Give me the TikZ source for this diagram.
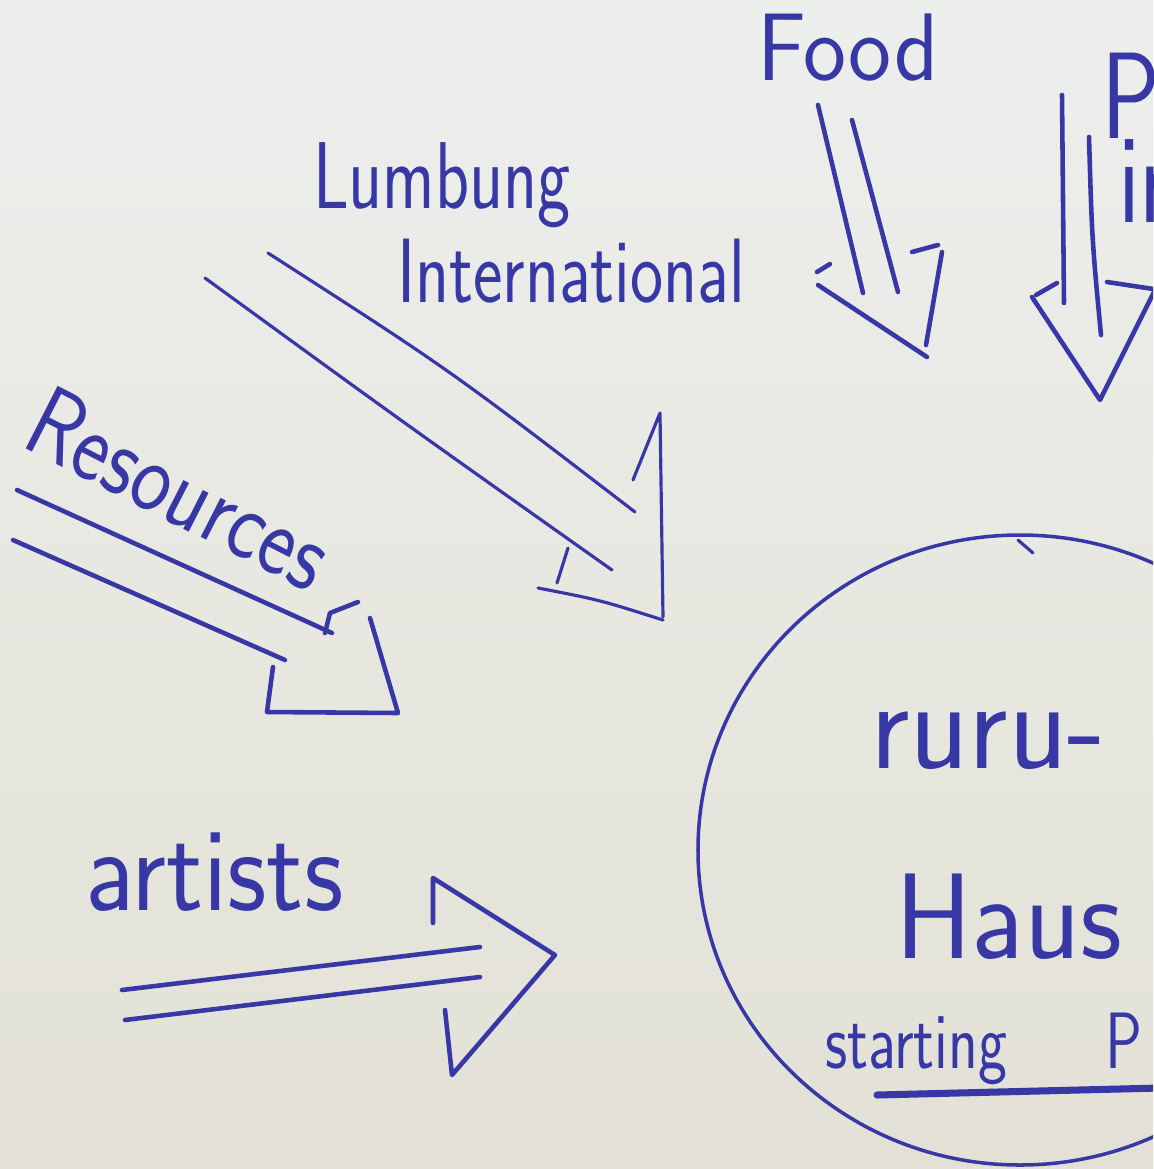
\documentclass[tikz,border=0pt]{standalone}
\usepackage{fontspec}
\usepackage{graphicx}
\definecolor{ink}{RGB}{55,55,165}
\definecolor{papertop}{RGB}{237,239,237}
\definecolor{paperbot}{RGB}{227,225,214}
\newcommand\hw[3]{{\fontsize{#1}{#1}\selectfont\scalebox{1}[#2]{#3}}}
\begin{document}
\begin{tikzpicture}[x=0.01cm,y=-0.01cm,
  pen/.style={draw=ink,line width=1.3pt,line cap=round,line join=round},
  thinpen/.style={pen,line width=0.9pt},
  hand/.style={text=ink,font=\sffamily,inner sep=0pt,outer sep=0pt}]
\useasboundingbox (0,0) rectangle (1153,1169);
\clip (0,0) rectangle (1153,1169);
\shade[top color=papertop,bottom color=paperbot] (0,0) rectangle (1153,1169);

% labels
\node[hand,anchor=base west] (food) at (757,80) {\hw{26}{1.05}{Food}};
\node[hand,anchor=base west] (pu) at (1101,138) {\hw{28}{1.25}{Pu}};
\node[hand,anchor=base west] (in) at (1118,222) {\hw{28}{1.3}{in}};
\node[hand,anchor=base west] (lumbung) at (313,208) {\hw{20}{1.35}{Lumbung}};
\node[hand,anchor=base west] (intl) at (397,302) {\hw{20}{1.3}{International}};
\node[hand,rotate=-27] (res) at (180,488) {\hw{24}{1.2}{Resources}};
\node[hand,anchor=base west] (artists) at (85,910) {\hw{31}{1.1}{artists}};
\node[hand,anchor=base west] (ruru) at (870,768) {\hw{35}{1.05}{ruru-}};
\node[hand,anchor=base west] (haus) at (895,958) {\hw{33}{1.05}{Haus}};
\node[hand,anchor=base west] (start) at (825,1068) {\hw{17.5}{1.3}{starting\hspace{1.6em}P}};

% ruru-Haus circle
\draw[thinpen,line width=1pt] (1020,850) ellipse [x radius=322, y radius=315];
\draw[thinpen] (1018,540) -- (1033,553);
\draw[pen,line width=2pt] (877,1095) -- (1160,1088);

% Food arrow
\draw[pen] (818,105) -- (863,293);
\draw[pen] (852,120) -- (898,292);
\draw[pen] (817,272) -- (830,264);
\draw[pen] (818,285) -- (927,357);
\draw[pen] (926,345) -- (942,252);
\draw[pen] (912,252) -- (938,245);

% Pu arrow
\draw[pen] (1062,95) -- (1064,303);
\draw[pen] (1089,137) .. controls (1092,240) .. (1101,335);
\draw[pen] (1036,295) -- (1057,283);
\draw[pen] (1032,297) -- (1100,400) -- (1165,270);
\draw[pen] (1107,282) -- (1160,290);

% Lumbung International arrow
\draw[thinpen] (268,253) .. controls (450,370) .. (635,512);
\draw[thinpen] (205,278) .. controls (400,420) .. (612,570);
\draw[thinpen] (633,480) -- (660,413) -- (663,617);
\draw[thinpen] (538,588) .. controls (600,600) .. (663,620);
\draw[thinpen] (568,548) -- (557,583);

% Resources arrow
\draw[pen] (17,490) -- (332,633);
\draw[pen] (13,540) -- (285,660);
\draw[pen] (273,667) -- (267,712) -- (398,713) -- (370,618);
\draw[pen] (325,633) -- (330,613) -- (358,602);

% artists arrow
\draw[pen] (122,990) -- (480,947);
\draw[pen] (125,1020) -- (480,977);
\draw[pen] (433,923) -- (433,878) -- (555,955) -- (452,1075) -- (445,1010);
\end{tikzpicture}
\end{document}
